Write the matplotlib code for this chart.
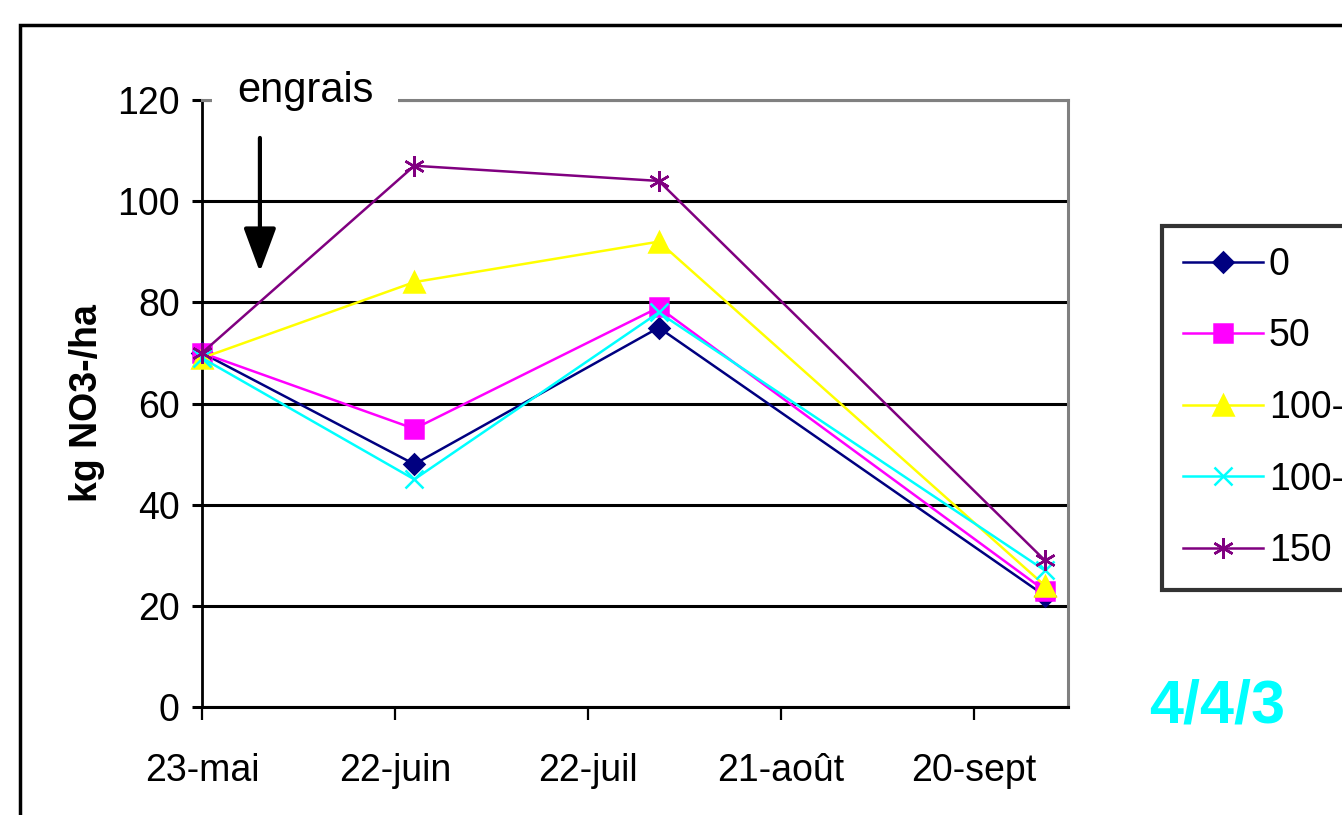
import matplotlib
matplotlib.use("Agg")
import matplotlib.pyplot as plt
from matplotlib.patches import Rectangle
import pandas as pd

# ---------------- data ----------------
sample_dates = ["2003-05-23", "2003-06-25", "2003-08-02", "2003-10-01"]
series_names = ["0", "50", "100-1", "100-2", "150"]
vals_0 = [70, 48, 75, 22]
vals_50 = [70, 55, 79, 23]
vals_100_1 = [69, 84, 92, 24]
vals_100_2 = [69, 45, 78, 27]
vals_150 = [70, 107, 104, 29]
tick_dates = ["2003-05-23", "2003-06-22", "2003-07-22", "2003-08-21", "2003-09-20"]
tick_labels = ["23-mai", "22-juin", "22-juil", "21-août", "20-sept"]
y_ticks = [0, 20, 40, 60, 80, 100, 120]
arrow_date = "2003-06-01"
engrais_date = "2003-06-08"

FONT = ["Liberation Sans", "DejaVu Sans"]
TS = 27  # tick / legend font size

W, H = 1342, 815
fig = plt.figure(figsize=(W / 100, H / 100), dpi=100)
ax = fig.add_axes([202 / W, 108 / H, 866 / W, 607 / H])

x = pd.to_datetime(sample_dates)
series = [vals_0, vals_50, vals_100_1, vals_100_2, vals_150]
colors = ["#000080", "#FF00FF", "#FFFF00", "#00FFFF", "#800080"]
markers = ["D", "s", "^", "x", (6, 2, 0)]
msizes = [10.5, 13, 15, 13, 15]

for name, v, c, m, ms in zip(series_names, series, colors, markers, msizes):
    ax.plot(x, v, color=c, lw=1.8, marker=m, markersize=ms,
            markerfacecolor=c, markeredgecolor=c, markeredgewidth=1.8,
            label=name, clip_on=False, zorder=3)

t0 = pd.Timestamp("2003-05-23")
ax.set_xlim(t0, t0 + pd.Timedelta(days=134.6))
ax.set_ylim(0, 120)
ax.set_xticks(pd.to_datetime(tick_dates))
ax.set_xticklabels(tick_labels, fontsize=TS, family=FONT)
ax.set_yticks(y_ticks)
ax.set_yticklabels([str(t) for t in y_ticks], fontsize=TS, family=FONT)

ax.yaxis.grid(True, color="black", lw=2.2)
ax.set_axisbelow(True)
ax.tick_params(axis="y", length=7, width=2.2, pad=9, colors="black")
ax.tick_params(axis="x", length=9, width=1.6, pad=24, colors="black")

for s in ["left", "bottom"]:
    ax.spines[s].set_color("black")
ax.spines["left"].set_linewidth(2)
ax.spines["bottom"].set_linewidth(2.2)
for s in ["top", "right"]:
    ax.spines[s].set_color("#808080")
    ax.spines[s].set_linewidth(2.2)

ax.set_ylabel("kg NO3-/ha", fontsize=27, fontweight="bold", family=FONT, labelpad=9)

# arrow "engrais"
ad = pd.Timestamp(arrow_date)
ax.annotate("", xy=(ad, 86), xytext=(ad, 112.5),
            arrowprops=dict(arrowstyle="-|>,head_length=1.35,head_width=0.5",
                            lw=3, color="black", shrinkA=0, shrinkB=0,
                            mutation_scale=20),
            annotation_clip=False, zorder=5)
ax.text(pd.Timestamp(engrais_date), 121.8, "engrais", fontsize=30, family=FONT,
        ha="center", va="center", clip_on=False, zorder=4,
        bbox=dict(boxstyle="square,pad=0.6", facecolor="white", edgecolor="none"))

# legend
leg = ax.legend(loc="upper left", bbox_to_anchor=(1162 / W, 1 - 226 / H),
                bbox_transform=fig.transFigure, borderaxespad=0,
                prop={"family": FONT, "size": TS},
                frameon=True, fancybox=False, handlelength=2.15,
                handletextpad=0.15, labelspacing=0.95, borderpad=0.55)
leg.get_frame().set_edgecolor("black")
leg.get_frame().set_linewidth(3)

fig.text(1217 / W, 1 - 707 / H, "4/4/3", color="#00FFFF", fontsize=44,
         fontweight="bold", family=FONT, ha="center", va="center")

# outer chart border
fig.patches.append(Rectangle((20 / W, -0.1), 1.2, 1 - 25 / H + 0.1,
                             transform=fig.transFigure, fill=False,
                             edgecolor="black", lw=2.5, zorder=0))

fig.savefig("out.png", dpi=100)
